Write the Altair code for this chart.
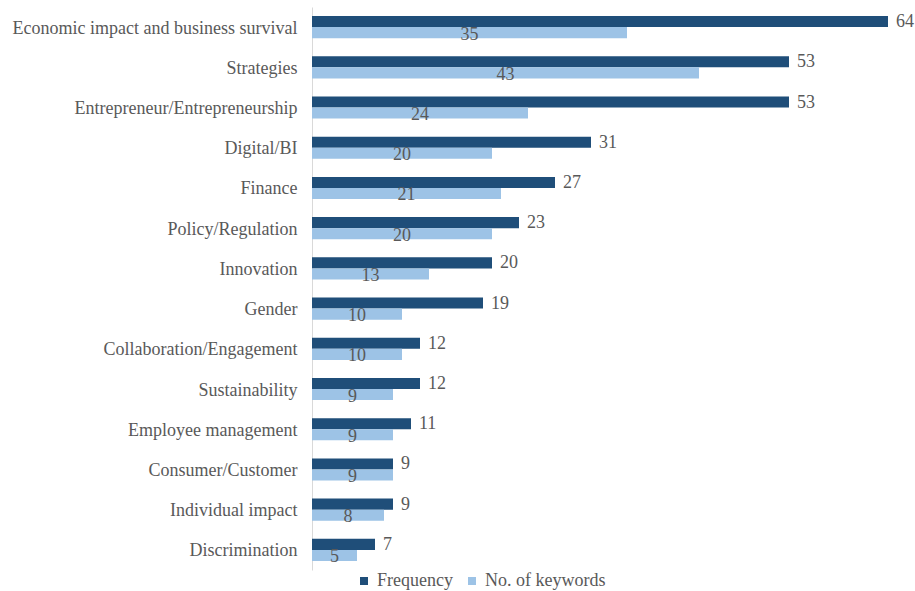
import altair as alt
import pandas as pd

categories = [
    "Economic impact and business survival", "Strategies", "Entrepreneur/Entrepreneurship",
    "Digital/BI", "Finance", "Policy/Regulation", "Innovation", "Gender",
    "Collaboration/Engagement", "Sustainability", "Employee management",
    "Consumer/Customer", "Individual impact", "Discrimination",
]
frequency = [64, 53, 53, 31, 27, 23, 20, 19, 12, 12, 11, 9, 9, 7]
keywords = [35, 43, 24, 20, 21, 20, 13, 10, 10, 9, 9, 9, 8, 5]
series = ["Frequency", "No. of keywords"]
colors = ["#1F4E79", "#9DC3E6"]

rows = []
for c, f, k in zip(categories, frequency, keywords):
    rows.append({"cat": c, "series": series[0], "value": f, "half": f / 2})
    rows.append({"cat": c, "series": series[1], "value": k, "half": k / 2})
df = pd.DataFrame(rows)

FONT = "'Liberation Serif', 'Times New Roman', Times, serif"
TXT = "#595959"
FS = 18

y = alt.Y("cat:N", sort=categories, title=None,
          scale=alt.Scale(paddingInner=0.45, paddingOuter=0.225),
          axis=alt.Axis(domainColor="#d9d9d9", ticks=False, labelPadding=15,
                        labelFont=FONT, labelFontSize=FS, labelColor=TXT,
                        labelLimit=400, labelOffset=1.5))
yoff = alt.YOffset("series:N", sort=series, scale=alt.Scale(paddingInner=0, paddingOuter=0))
xscale = alt.Scale(domain=[0, 66], nice=False)

bars = alt.Chart(df).mark_bar().encode(
    x=alt.X("value:Q", scale=xscale, axis=None),
    y=y,
    yOffset=yoff,
    color=alt.Color("series:N", sort=series,
                    scale=alt.Scale(domain=series, range=colors),
                    legend=alt.Legend(title=None, orient="none", direction="horizontal",
                                      legendX=43, legendY=565, symbolType="square",
                                      symbolSize=64, symbolOpacity=1, labelFont=FONT,
                                      labelFontSize=FS, labelColor=TXT, labelOffset=4,
                                      columnPadding=10, symbolStrokeWidth=0)),
)

freq_text = alt.Chart(df).transform_filter(alt.datum.series == "Frequency").mark_text(
    align="left", baseline="middle", dx=8, dy=0.5, font=FONT, fontSize=FS, color=TXT
).encode(
    x=alt.X("value:Q", scale=xscale),
    y=alt.Y("cat:N", sort=categories),
    yOffset=yoff,
    text="value:Q",
)

kw_text = alt.Chart(df).transform_filter(alt.datum.series == "No. of keywords").mark_text(
    align="center", baseline="middle", dy=2, font=FONT, fontSize=FS, color=TXT
).encode(
    x=alt.X("half:Q", scale=xscale),
    y=alt.Y("cat:N", sort=categories),
    yOffset=yoff,
    text="value:Q",
)

chart = alt.layer(bars, freq_text, kw_text).properties(
    width=594, height=563,
    autosize=alt.AutoSizeParams(type="none"),
    padding={"left": 312, "top": 7, "right": 9, "bottom": 21},
).configure(background="white").configure_view(stroke=None)

chart.save("out.html", embed_options={"renderer": "svg", "actions": False})
